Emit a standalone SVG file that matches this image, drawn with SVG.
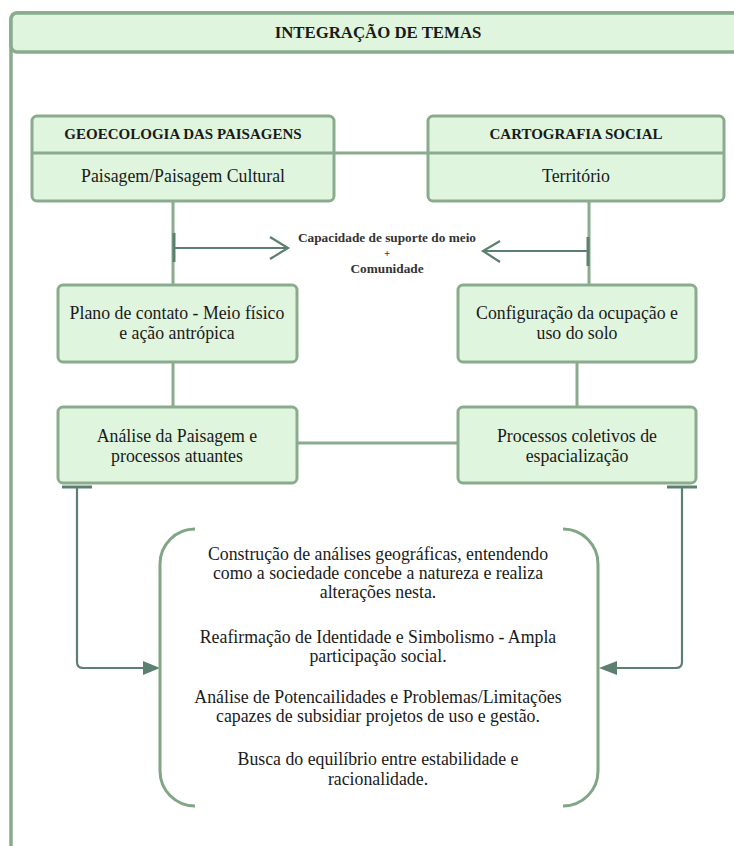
<svg xmlns="http://www.w3.org/2000/svg" width="734" height="846" viewBox="0 0 734 846">
<style>
.box{fill:#dff5de;stroke:#8aab8d;stroke-width:3}
.ln{fill:none;stroke:#8aab8d;stroke-width:3}
.ar{fill:none;stroke:#5c8070;stroke-width:2.2}
.brk{fill:none;stroke:#80a686;stroke-width:3}
.t{font-family:"Liberation Serif",serif;font-size:17.8px;fill:#1a1a1a;text-anchor:middle}
.b{font-family:"Liberation Serif",serif;font-size:15px;font-weight:bold;fill:#1a1a1a;text-anchor:middle}
.s{font-family:"Liberation Serif",serif;font-size:13.3px;font-weight:bold;fill:#333;text-anchor:middle}
</style>
<rect width="734" height="846" fill="#fff"/>
<g id="container">
<path d="M11,900 L11,20 Q11,13 18,13 L760,13" fill="none" stroke="#8aab8d" stroke-width="3.5"/>
<rect x="11" y="13" width="760" height="39" rx="6" fill="#dff5de" stroke="#8aab8d" stroke-width="3.5"/>
<text class="b" x="378" y="38" style="font-size:16.8px">INTEGRAÇÃO DE TEMAS</text>
</g>
<g id="connectors">
<line class="ln" x1="334" y1="153" x2="428" y2="153"/>
<line class="ln" x1="173" y1="201" x2="173" y2="285"/>
<line class="ln" x1="589" y1="201" x2="589" y2="285"/>
<line class="ln" x1="173" y1="362" x2="173" y2="407"/>
<line class="ln" x1="577" y1="362" x2="577" y2="407"/>
<line class="ln" x1="297" y1="443" x2="458" y2="443"/>
<line class="ar" x1="174" y1="233" x2="174" y2="262" style="stroke-width:3"/>
<line class="ar" x1="174" y1="248" x2="288" y2="248"/>
<polyline class="ar" points="270,237 288,248 270,259"/>
<line class="ar" x1="588" y1="237" x2="588" y2="266" style="stroke-width:3"/>
<line class="ar" x1="588" y1="251" x2="483" y2="251"/>
<polyline class="ar" points="500,241 483,251 500,262"/>
<line class="ar" x1="62" y1="487" x2="92" y2="487" style="stroke-width:3"/>
<path class="ar" d="M77,487 L77,662 Q77,668 83,668 L146,668"/>
<polygon points="160,668 143,661 143,675" fill="#5c8070"/>
<line class="ar" x1="667" y1="487" x2="697" y2="487" style="stroke-width:3"/>
<path class="ar" d="M682,487 L682,662 Q682,668 676,668 L614,668"/>
<polygon points="599,668 617,661 617,675" fill="#5c8070"/>
</g>
<g id="geoecologia">
<rect class="box" x="32" y="116" width="302" height="85" rx="5"/>
<line class="ln" x1="32" y1="153" x2="334" y2="153"/>
<text class="b" x="183" y="139">GEOECOLOGIA DAS PAISAGENS</text>
<text class="t" x="183" y="182">Paisagem/Paisagem Cultural</text>
</g>
<g id="cartografia">
<rect class="box" x="428" y="116" width="296" height="85" rx="5"/>
<line class="ln" x1="428" y1="153" x2="724" y2="153"/>
<text class="b" x="576" y="139">CARTOGRAFIA SOCIAL</text>
<text class="t" x="576" y="182">Território</text>
</g>
<g id="capacidade">
<text class="s" x="387" y="242">Capacidade de suporte do meio</text>
<text class="s" x="387" y="257" style="font-size:10px">+</text>
<text class="s" x="387" y="273">Comunidade</text>
</g>
<g id="plano">
<rect class="box" x="58" y="285" width="239" height="77" rx="5"/>
<text class="t" x="177" y="319">Plano de contato - Meio físico</text>
<text class="t" x="177" y="339">e ação antrópica</text>
</g>
<g id="configuracao">
<rect class="box" x="458" y="285" width="238" height="77" rx="5"/>
<text class="t" x="577" y="319">Configuração da ocupação e</text>
<text class="t" x="577" y="339">uso do solo</text>
</g>
<g id="analise">
<rect class="box" x="58" y="407" width="239" height="76" rx="5"/>
<text class="t" x="177" y="442">Análise da Paisagem e</text>
<text class="t" x="177" y="462">processos atuantes</text>
</g>
<g id="processos">
<rect class="box" x="458" y="407" width="238" height="76" rx="5"/>
<text class="t" x="577" y="442">Processos coletivos de</text>
<text class="t" x="577" y="462">espacialização</text>
</g>
<g id="sintese">
<path class="brk" d="M195,529 A35,35 0 0 0 160,564 L160,771 A35,35 0 0 0 195,806"/>
<path class="brk" d="M563,529 A35,35 0 0 1 598,564 L598,771 A35,35 0 0 1 563,806"/>
<text class="t" x="378" y="560">Construção de análises geográficas, entendendo</text>
<text class="t" x="378" y="579">como a sociedade concebe a natureza e realiza</text>
<text class="t" x="378" y="598">alterações nesta.</text>
<text class="t" x="378" y="643">Reafirmação de Identidade e Simbolismo - Ampla</text>
<text class="t" x="378" y="662">participação social.</text>
<text class="t" x="378" y="703">Análise de Potencailidades e Problemas/Limitações</text>
<text class="t" x="378" y="722">capazes de subsidiar projetos de uso e gestão.</text>
<text class="t" x="378" y="765">Busca do equilíbrio entre estabilidade e</text>
<text class="t" x="378" y="785">racionalidade.</text>
</g>
</svg>
